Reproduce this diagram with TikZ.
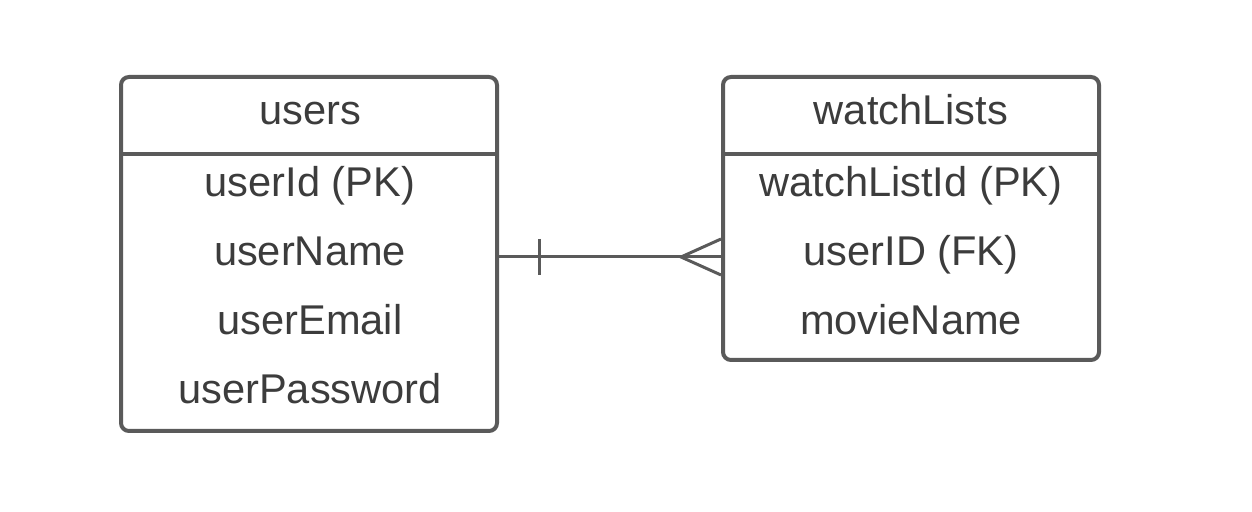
\documentclass[tikz,border=0pt]{standalone}
\usepackage{fontspec}
\setmainfont{Liberation Sans}
\usetikzlibrary{positioning}
\definecolor{linegray}{HTML}{5A5A5A}
\definecolor{textgray}{HTML}{3C3C3C}

\begin{document}
\begin{tikzpicture}[
    x=0.5pt, y=-0.5pt,
    table/.style={rectangle, draw=linegray, line width=2pt, rounded corners=4pt, minimum width=188pt, inner sep=0pt},
    field/.style={text=textgray, font=\fontsize{20.8}{24}\selectfont, inner sep=0pt, anchor=base},
    divider/.style={draw=linegray, line width=2pt},
    link/.style={draw=linegray, line width=1.5pt}
]
\useasboundingbox (0,0) rectangle (1252,512);

% users table
\node[table, minimum height=177pt] (users) at (309,254) {};
\draw[divider] (users.west |- 0,154) -- (users.east |- 0,154);
\node[field] (usersTitle) at (310,125) {users};
\node[field] (userId) at (310,197) {userId (PK)};
\node[field] (userName) at (310,266) {userName};
\node[field] (userEmail) at (310,335) {userEmail};
\node[field] (userPassword) at (310,404) {userPassword};

% watchLists table
\node[table, minimum height=141.5pt] (watchLists) at (911,218.5) {};
\draw[divider] (watchLists.west |- 0,154) -- (watchLists.east |- 0,154);
\node[field] (watchListsTitle) at (911,125) {watchLists};
\node[field] (watchListId) at (911,197) {watchListId (PK)};
\node[field] (userID) at (911,266) {userID (FK)};
\node[field] (movieName) at (911,335) {movieName};

% one-to-many link
\coordinate (oneEnd) at (users.east |- 0,257);
\coordinate (manyEnd) at (watchLists.west |- 0,257);
\draw[link] (oneEnd) -- (manyEnd);
\draw[link] ([xshift=20pt, yshift=9pt]oneEnd) -- ([xshift=20pt, yshift=-9pt]oneEnd);
\draw[link] ([yshift=9pt]manyEnd) -- ([xshift=-20pt]manyEnd) -- ([yshift=-9pt]manyEnd);

\end{tikzpicture}
\end{document}
